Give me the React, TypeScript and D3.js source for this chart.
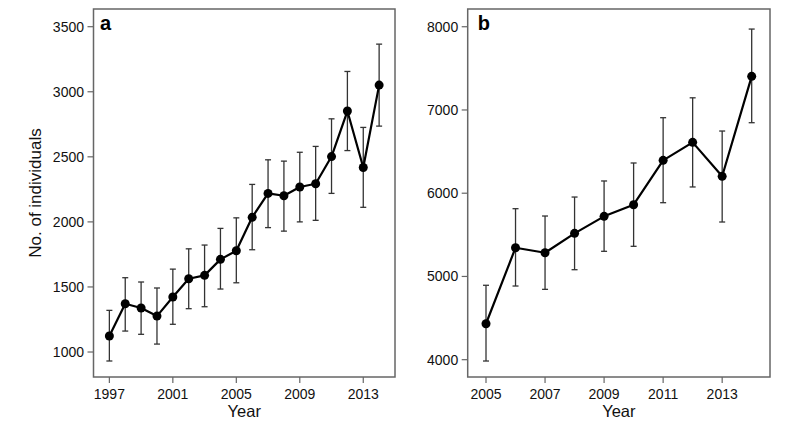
import React from "react";
import * as d3 from "d3";

// ---- Data ----
const yearsA = [1997, 1998, 1999, 2000, 2001, 2002, 2003, 2004, 2005, 2006, 2007, 2008, 2009, 2010, 2011, 2012, 2013, 2014];
const meanA = [1123, 1371, 1338, 1276, 1423, 1563, 1589, 1712, 1778, 2035, 2219, 2201, 2268, 2293, 2502, 2852, 2418, 3051];
const upperA = [1320, 1571, 1538, 1492, 1637, 1793, 1822, 1950, 2031, 2288, 2477, 2467, 2535, 2580, 2792, 3156, 2726, 3366];
const lowerA = [931, 1161, 1136, 1061, 1213, 1333, 1348, 1484, 1532, 1786, 1956, 1929, 2000, 2012, 2219, 2548, 2112, 2736];
const xTicksA = [1997, 2001, 2005, 2009, 2013];
const yTicksA = [1000, 1500, 2000, 2500, 3000, 3500];

const yearsB = [2005, 2006, 2007, 2008, 2009, 2010, 2011, 2012, 2013, 2014];
const meanB = [4432, 5345, 5285, 5518, 5722, 5862, 6395, 6611, 6203, 7404];
const upperB = [4894, 5814, 5726, 5954, 6147, 6363, 6907, 7146, 6747, 7972];
const lowerB = [3984, 4885, 4845, 5081, 5302, 5362, 5886, 6075, 5654, 6847];
const xTicksB = [2005, 2007, 2009, 2011, 2013];
const yTicksB = [4000, 5000, 6000, 7000, 8000];

const FONT = "Liberation Sans, Arial, Helvetica, sans-serif";
const BOX_COLOR = "#666";
const BAR_COLOR = "#333";

type PanelProps = {
  label: string;
  labelX: number;
  years: number[];
  mean: number[];
  upper: number[];
  lower: number[];
  xTicks: number[];
  yTicks: number[];
  xDomain: [number, number];
  yDomain: [number, number];
  left: number;
  right: number;
  top: number;
  bottom: number;
};

function Panel(p: PanelProps) {
  const x = d3.scaleLinear().domain(p.xDomain).range([p.left, p.right]);
  const y = d3.scaleLinear().domain(p.yDomain).range([p.bottom, p.top]);
  const pts = p.years.map((yr, i) => ({ yr, m: p.mean[i], u: p.upper[i], l: p.lower[i] }));
  const line = d3
    .line<{ yr: number; m: number }>()
    .x((d) => x(d.yr))
    .y((d) => y(d.m));
  const cap = 3;
  return (
    <g>
      {pts.map((d, i) => (
        <g key={"e" + i} stroke={BAR_COLOR} strokeWidth={1.3} fill="none">
          <line x1={x(d.yr)} x2={x(d.yr)} y1={y(d.u)} y2={y(d.l)} />
          <line x1={x(d.yr) - cap} x2={x(d.yr) + cap} y1={y(d.u)} y2={y(d.u)} />
          <line x1={x(d.yr) - cap} x2={x(d.yr) + cap} y1={y(d.l)} y2={y(d.l)} />
        </g>
      ))}
      <path d={line(pts) || ""} fill="none" stroke="#000" strokeWidth={2.2} strokeLinejoin="round" />
      {pts.map((d, i) => (
        <circle key={"c" + i} cx={x(d.yr)} cy={y(d.m)} r={4.5} fill="#000" />
      ))}
      <rect
        x={p.left}
        y={p.top}
        width={p.right - p.left}
        height={p.bottom - p.top}
        fill="none"
        stroke={BOX_COLOR}
        strokeWidth={1.5}
      />
      {p.yTicks.map((t) => (
        <g key={"y" + t}>
          <line x1={p.left - 6} x2={p.left} y1={y(t)} y2={y(t)} stroke={BOX_COLOR} strokeWidth={1.2} />
          <text
            x={p.left - 9.5}
            y={y(t)}
            dy="0.36em"
            textAnchor="end"
            fontFamily={FONT}
            fontSize={14}
            fill="#111"
          >
            {t}
          </text>
        </g>
      ))}
      {p.xTicks.map((t) => (
        <g key={"x" + t}>
          <line x1={x(t)} x2={x(t)} y1={p.bottom} y2={p.bottom + 6} stroke={BOX_COLOR} strokeWidth={1.2} />
          <text x={x(t)} y={p.bottom + 21.5} textAnchor="middle" fontFamily={FONT} fontSize={14} fill="#111">
            {t}
          </text>
        </g>
      ))}
      <text
        x={(p.left + p.right) / 2}
        y={417}
        textAnchor="middle"
        fontFamily={FONT}
        fontSize={16.5}
        fill="#111"
      >
        Year
      </text>
      <text x={p.labelX} y={29.5} fontFamily={FONT} fontSize={20} fontWeight="bold" fill="#000">
        {p.label}
      </text>
    </g>
  );
}

export default function App() {
  return (
    <svg
      width={800}
      height={424}
      viewBox="0 0 800 424"
      style={{ position: "absolute", left: 0, top: 0, background: "#fff" }}
    >
      <rect x={0} y={0} width={800} height={424} fill="#fff" />
      <Panel
        label="a"
        labelX={100}
        years={yearsA}
        mean={meanA}
        upper={upperA}
        lower={lowerA}
        xTicks={xTicksA}
        yTicks={yTicksA}
        xDomain={[1996, 2015]}
        yDomain={[808, 3636]}
        left={93.5}
        right={395}
        top={9}
        bottom={377}
      />
      <Panel
        label="b"
        labelX={477.8}
        years={yearsB}
        mean={meanB}
        upper={upperB}
        lower={lowerB}
        xTicks={xTicksB}
        yTicks={yTicksB}
        xDomain={[2004.38, 2014.62]}
        yDomain={[3792, 8213]}
        left={467.7}
        right={770}
        top={9}
        bottom={377}
      />
      <text
        transform={`translate(41,193) rotate(-90)`}
        textAnchor="middle"
        fontFamily={FONT}
        fontSize={17}
        fill="#111"
      >
        No. of individuals
      </text>
    </svg>
  );
}
